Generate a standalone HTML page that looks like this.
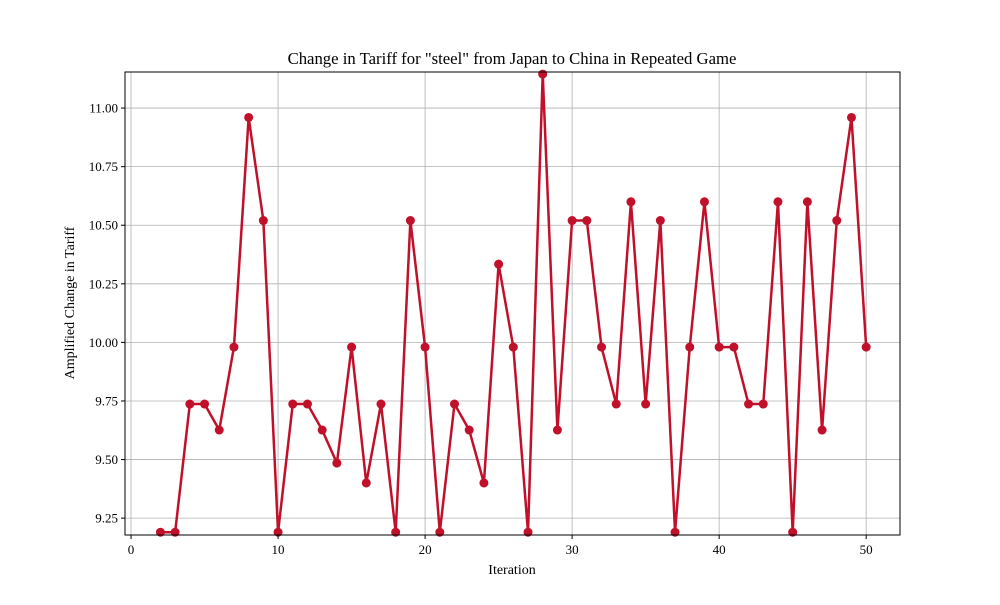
<!DOCTYPE html>
<html><head><meta charset="utf-8"><style>
body{margin:0;background:#fff;}
svg text{font-family:"Liberation Serif","DejaVu Serif",serif;fill:#000;}
</style></head><body>
<svg id="chart" width="1000" height="600" xmlns="http://www.w3.org/2000/svg">
<rect width="1000" height="600" fill="#fff"/>
<g id="grid"></g>
<g id="series"></g>
<rect x="125" y="72" width="775" height="463" fill="none" stroke="#000" stroke-width="1"/>
<g id="xticks"></g><g id="yticks"></g>
<text x="512" y="64" text-anchor="middle" font-size="16.7">Change in Tariff for "steel" from Japan to China in Repeated Game</text>
<text x="512" y="574" text-anchor="middle" font-size="14">Iteration</text>
<text transform="translate(74,303) rotate(-90)" text-anchor="middle" font-size="14">Amplified Change in Tariff</text>
</svg>
<script>
const iterations=[2,3,4,5,6,7,8,9,10,11,12,13,14,15,16,17,18,19,20,21,22,23,24,25,26,27,28,29,30,31,32,33,34,35,36,37,38,39,40,41,42,43,44,45,46,47,48,49,50];
const tariffValues=[9.19,9.19,9.737,9.737,9.626,9.98,10.96,10.52,9.19,9.737,9.737,9.626,9.485,9.98,9.40,9.737,9.19,10.52,9.98,9.19,9.737,9.626,9.40,10.334,9.98,9.19,11.145,9.626,10.52,10.52,9.98,9.737,10.60,9.737,10.52,9.19,9.98,10.60,9.98,9.98,9.737,9.737,10.60,9.19,10.60,9.626,10.52,10.96,9.98];
const xTicks=[0,10,20,30,40,50];
const yTicks=[9.25,9.5,9.75,10.0,10.25,10.5,10.75,11.0];
const X0=125,X1=900,Y0=72,Y1=535;
const xMin=-0.41,xMax=52.3,yMin=9.178,yMax=11.154;
const xs=v=>X0+(v-xMin)/(xMax-xMin)*(X1-X0);
const ys=v=>Y1-(v-yMin)/(yMax-yMin)*(Y1-Y0);
const NS="http://www.w3.org/2000/svg";
function mk(t,a,p){const e=document.createElementNS(NS,t);for(const k in a)e.setAttribute(k,a[k]);p.appendChild(e);return e;}
const grid=document.getElementById('grid'),xt=document.getElementById('xticks'),yt=document.getElementById('yticks'),ser=document.getElementById('series');
xTicks.forEach(v=>{const x=xs(v);
const g=mk('line',{x1:x,x2:x,y1:Y0,y2:Y1,stroke:'#b0b0b0','stroke-width':0.8},grid);


mk('line',{x1:x,x2:x,y1:Y1,y2:Y1+4,stroke:'#000'},xt);
const t=mk('text',{x:x,y:Y1+19,'text-anchor':'middle','font-size':13},xt);t.textContent=v;

});
yTicks.forEach(v=>{const y=ys(v);
const g=mk('line',{x1:X0,x2:X1,y1:y,y2:y,stroke:'#b0b0b0','stroke-width':0.8},grid);


mk('line',{x1:X0-4,x2:X0,y1:y,y2:y,stroke:'#000'},yt);
const t=mk('text',{x:X0-7,y:y+4.5,'text-anchor':'end','font-size':13},yt);t.textContent=v.toFixed(2);

});
const pts=iterations.map((v,i)=>xs(v)+','+ys(tariffValues[i])).join(' ');
const pl=mk('polyline',{points:pts,fill:'none',stroke:'#c0102a','stroke-width':2.5,'stroke-linejoin':'round'},ser);


iterations.forEach((v,i)=>{const c=mk('circle',{cx:xs(v),cy:ys(tariffValues[i]),r:4.5,fill:'#c0102a'},ser);

});
</script>
</body></html>
